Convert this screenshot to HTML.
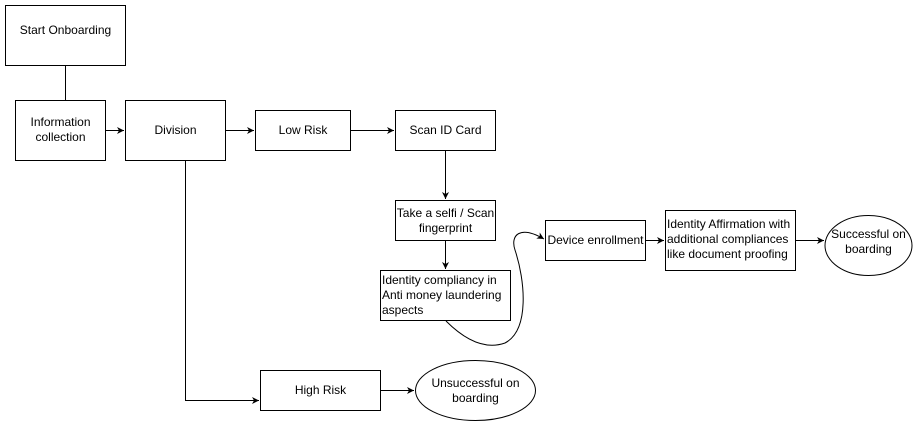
<!DOCTYPE html>
<html><head><style>
body{margin:0;background:#fff;}
svg text{font-family:"Liberation Sans",Arial,sans-serif;font-size:12px;fill:#000;}
</style></head><body>
<svg width="916" height="421" xmlns="http://www.w3.org/2000/svg">
<defs><marker id="a" markerWidth="8" markerHeight="8" refX="7" refY="4" orient="auto" markerUnits="userSpaceOnUse"><path d="M0,0.5 L7,4 L0,7.5 L2,4 Z" fill="#000"/></marker></defs>
<g fill="#fff" stroke="#000" stroke-width="1">
<rect x="5.5" y="5.5" width="120" height="60"/>
<rect x="15.5" y="100.5" width="90" height="60"/>
<rect x="125.5" y="100.5" width="100" height="60"/>
<rect x="255.5" y="110.5" width="95" height="40"/>
<rect x="395.5" y="110.5" width="100" height="40"/>
<rect x="395.5" y="200.5" width="100" height="40"/>
<rect x="380.5" y="270.5" width="130" height="50"/>
<rect x="545.5" y="220.5" width="100" height="40"/>
<rect x="665.5" y="210.5" width="130" height="60"/>
<ellipse cx="868.5" cy="245.5" rx="43.5" ry="30"/>
<rect x="260.5" y="370.5" width="120" height="40"/>
<ellipse cx="475.5" cy="390.5" rx="60" ry="30"/>
</g>
<g fill="none" stroke="#000" stroke-width="1">
<path d="M65.5 65.5V100.5"/>
<path d="M105.5 130.5H124" marker-end="url(#a)"/>
<path d="M225.5 130.5H254" marker-end="url(#a)"/>
<path d="M350.5 130.5H394" marker-end="url(#a)"/>
<path d="M445.5 150.5V199" marker-end="url(#a)"/>
<path d="M445.5 240.5V269" marker-end="url(#a)"/>
<path d="M645.5 240.5H664" marker-end="url(#a)"/>
<path d="M795.5 240.5H824" marker-end="url(#a)"/>
<path d="M185.5 160.5V400.5H259" marker-end="url(#a)"/>
<path d="M380.5 390.5H414" marker-end="url(#a)"/>
<path d="M446 321C465 340 485 350 505 343C530 330 525 280 515 250C510 235 520 225 544 239" marker-end="url(#a)"/>
</g>
<g text-anchor="middle">
<text x="65.5" y="34">Start Onboarding</text>
<text x="60.5" y="126">Information</text><text x="60.5" y="141">collection</text>
<text x="175.5" y="134">Division</text>
<text x="303" y="134">Low Risk</text>
<text x="445.5" y="134">Scan ID Card</text>
<text x="445.5" y="217">Take a selfi / Scan</text><text x="445.5" y="232">fingerprint</text>
<text x="595.5" y="244">Device enrollment</text>
<text x="868.5" y="238">Successful on</text><text x="868.5" y="253">boarding</text>
<text x="320.5" y="394">High Risk</text>
<text x="475.5" y="387">Unsuccessful on</text><text x="475.5" y="402">boarding</text>
</g>
<text x="382" y="284">Identity compliancy in</text>
<text x="382" y="299">Anti money laundering</text>
<text x="382" y="314">aspects</text>
<text x="667" y="228">Identity Affirmation with</text>
<text x="667" y="243">additional compliances</text>
<text x="667" y="258">like document proofing</text>
</svg>
</body></html>
